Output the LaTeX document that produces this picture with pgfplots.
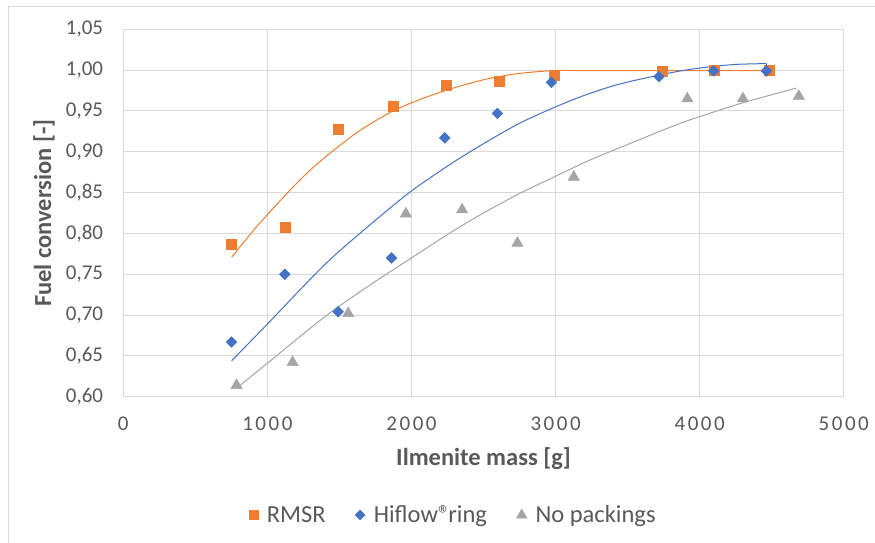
\documentclass[border=0pt]{standalone}
\usepackage{fontspec}
\setmainfont{Carlito}
\newfontfamily\spacedfont[LetterSpace=12]{Carlito}
\usepackage{pgfplots}
\pgfplotsset{compat=1.18}

\definecolor{rmsr}{HTML}{ED7D31}
\definecolor{hiflow}{HTML}{4472C4}
\definecolor{nopack}{HTML}{A5A5A5}
\definecolor{gridgray}{HTML}{D9D9D9}
\definecolor{txtgray}{HTML}{595959}

% measured points: ilmenite mass [g] vs fuel conversion [-]
\pgfplotstableread{
m    x
747  0.787
1124 0.807
1494 0.928
1872 0.956
2243 0.982
2612 0.986
2994 0.994
3741 0.999
4104 1.000
4485 1.000
}\rmsrdata
\pgfplotstableread{
m    x
751  0.667
1121 0.750
1491 0.704
1861 0.770
2231 0.917
2596 0.947
2971 0.985
3717 0.992
4097 0.999
4462 0.999
}\hiflowdata
\pgfplotstableread{
m    x
786  0.614
1175 0.642
1561 0.702
1961 0.824
2351 0.829
2735 0.788
3126 0.869
3914 0.965
4300 0.965
4688 0.968
}\nopackdata

% fitted trend curves
\pgfplotstableread{
m    x
752  0.771
900  0.803
1000 0.823
1168 0.855
1300 0.878
1468 0.903
1650 0.927
1872 0.950
2058 0.964
2289 0.978
2520 0.989
2751 0.996
3000 0.9995
3200 0.9995
4485 0.9995
}\rmsrfit
\pgfplotstableread{
m    x
752  0.644
1000 0.689
1399 0.762
1722 0.812
2000 0.852
2289 0.887
2520 0.912
2751 0.935
3000 0.955
3214 0.970
3445 0.983
3722 0.994
3900 1.000
4069 1.004
4250 1.007
4462 1.008
}\hiflowfit
\pgfplotstableread{
m    x
798  0.612
1000 0.641
1399 0.698
1722 0.738
2000 0.770
2289 0.803
2520 0.827
2751 0.849
3000 0.870
3214 0.888
3445 0.905
3837 0.933
4000 0.943
4300 0.960
4670 0.978
}\nopackfit

\begin{document}
\begin{tikzpicture}
\begin{axis}[
  scale only axis,
  width=720.5pt, height=367.4pt,
  at={(0,0)}, anchor=south west,
  xmin=0, xmax=5000, ymin=0.6, ymax=1.05,
  xtick={0,1000,2000,3000,4000,5000},
  ytick={0.60,0.65,0.70,0.75,0.80,0.85,0.90,0.95,1.00,1.05},
  grid=major,
  major grid style={draw=gridgray, line width=1pt},
  axis line style={draw=gridgray, line width=1pt},
  major tick length=0pt,
  tick label style={text=txtgray, inner sep=0pt},
  x tick label style={/pgf/number format/1000 sep={}, /pgf/number format/assume math mode=true},
  y tick label style={/pgf/number format/fixed, /pgf/number format/fixed zerofill,
    /pgf/number format/precision=2, /pgf/number format/use comma,
    /pgf/number format/assume math mode=true},
  yticklabel style={anchor=east, xshift=-20pt, font=\fontsize{21}{25}\selectfont},
  xticklabel style={anchor=north, yshift=-20pt, font=\spacedfont\fontsize{21}{25}\selectfont},
  xlabel={Ilmenite mass [g]},
  ylabel={Fuel conversion [-]},
  label style={font=\fontsize{24.5}{29}\selectfont\bfseries, text=txtgray, inner sep=0pt},
  xlabel style={at={(axis description cs:0.5,-0.1859)}, anchor=base},
  ylabel style={at={(axis description cs:-0.1003,0.5)}, anchor=base},
  legend columns=3,
  legend cell align=left,
  legend style={draw=none, fill=none, inner sep=0pt,
    at={(axis description cs:0.1745,-0.322)}, anchor=west,
    font=\fontsize{24.5}{29}\selectfont, text=txtgray,
    nodes={inner sep=0pt},
    /tikz/every odd column/.append style={column sep=8.7pt},
    /tikz/every even column/.append style={column sep=29.5pt}},
  legend image code/.code={\draw[mark repeat=2,mark phase=2,#1] plot coordinates {(0pt,0pt)(5pt,0pt)(10pt,0pt)};},
]
% trend curves
\addplot[rmsr, line width=1pt, smooth, no marks, forget plot] table[x=m, y=x] {\rmsrfit};
\addplot[hiflow, line width=1pt, smooth, no marks, forget plot] table[x=m, y=x] {\hiflowfit};
\addplot[hiflow, line width=1pt, no marks, forget plot] coordinates {(4462,1.008) (4466,0.999)};
\addplot[nopack, line width=1pt, smooth, no marks, forget plot] table[x=m, y=x] {\nopackfit};
% measured data
\addplot[only marks, mark=square*, mark size=5pt, color=rmsr, line width=0.5pt,
  legend image post style={mark size=4.5pt}] table[x=m, y=x] {\rmsrdata};
\addlegendentry{RMSR}
\addplot[only marks, mark=square*, mark size=3.8pt, mark options={rotate=45}, color=hiflow, line width=0.5pt,
  legend image post style={mark size=3.5pt}] table[x=m, y=x] {\hiflowdata};
\addlegendentry{Hiflow®\kern-2pt ring}
\addplot[only marks, mark=triangle*, mark size=6.5pt, color=nopack, line width=0.5pt,
  legend image post style={mark size=6pt}] table[x=m, y=x] {\nopackdata};
\addlegendentry{No packings}
\end{axis}
% chart area frame
\draw[gridgray, line width=1pt] (-115pt,-160pt) -- (-115pt,390pt) -- (770pt,390pt);
\pgfresetboundingbox
\path[use as bounding box] (-123.3pt,-146.3pt) rectangle (751.7pt,396.7pt);
\end{tikzpicture}
\end{document}
